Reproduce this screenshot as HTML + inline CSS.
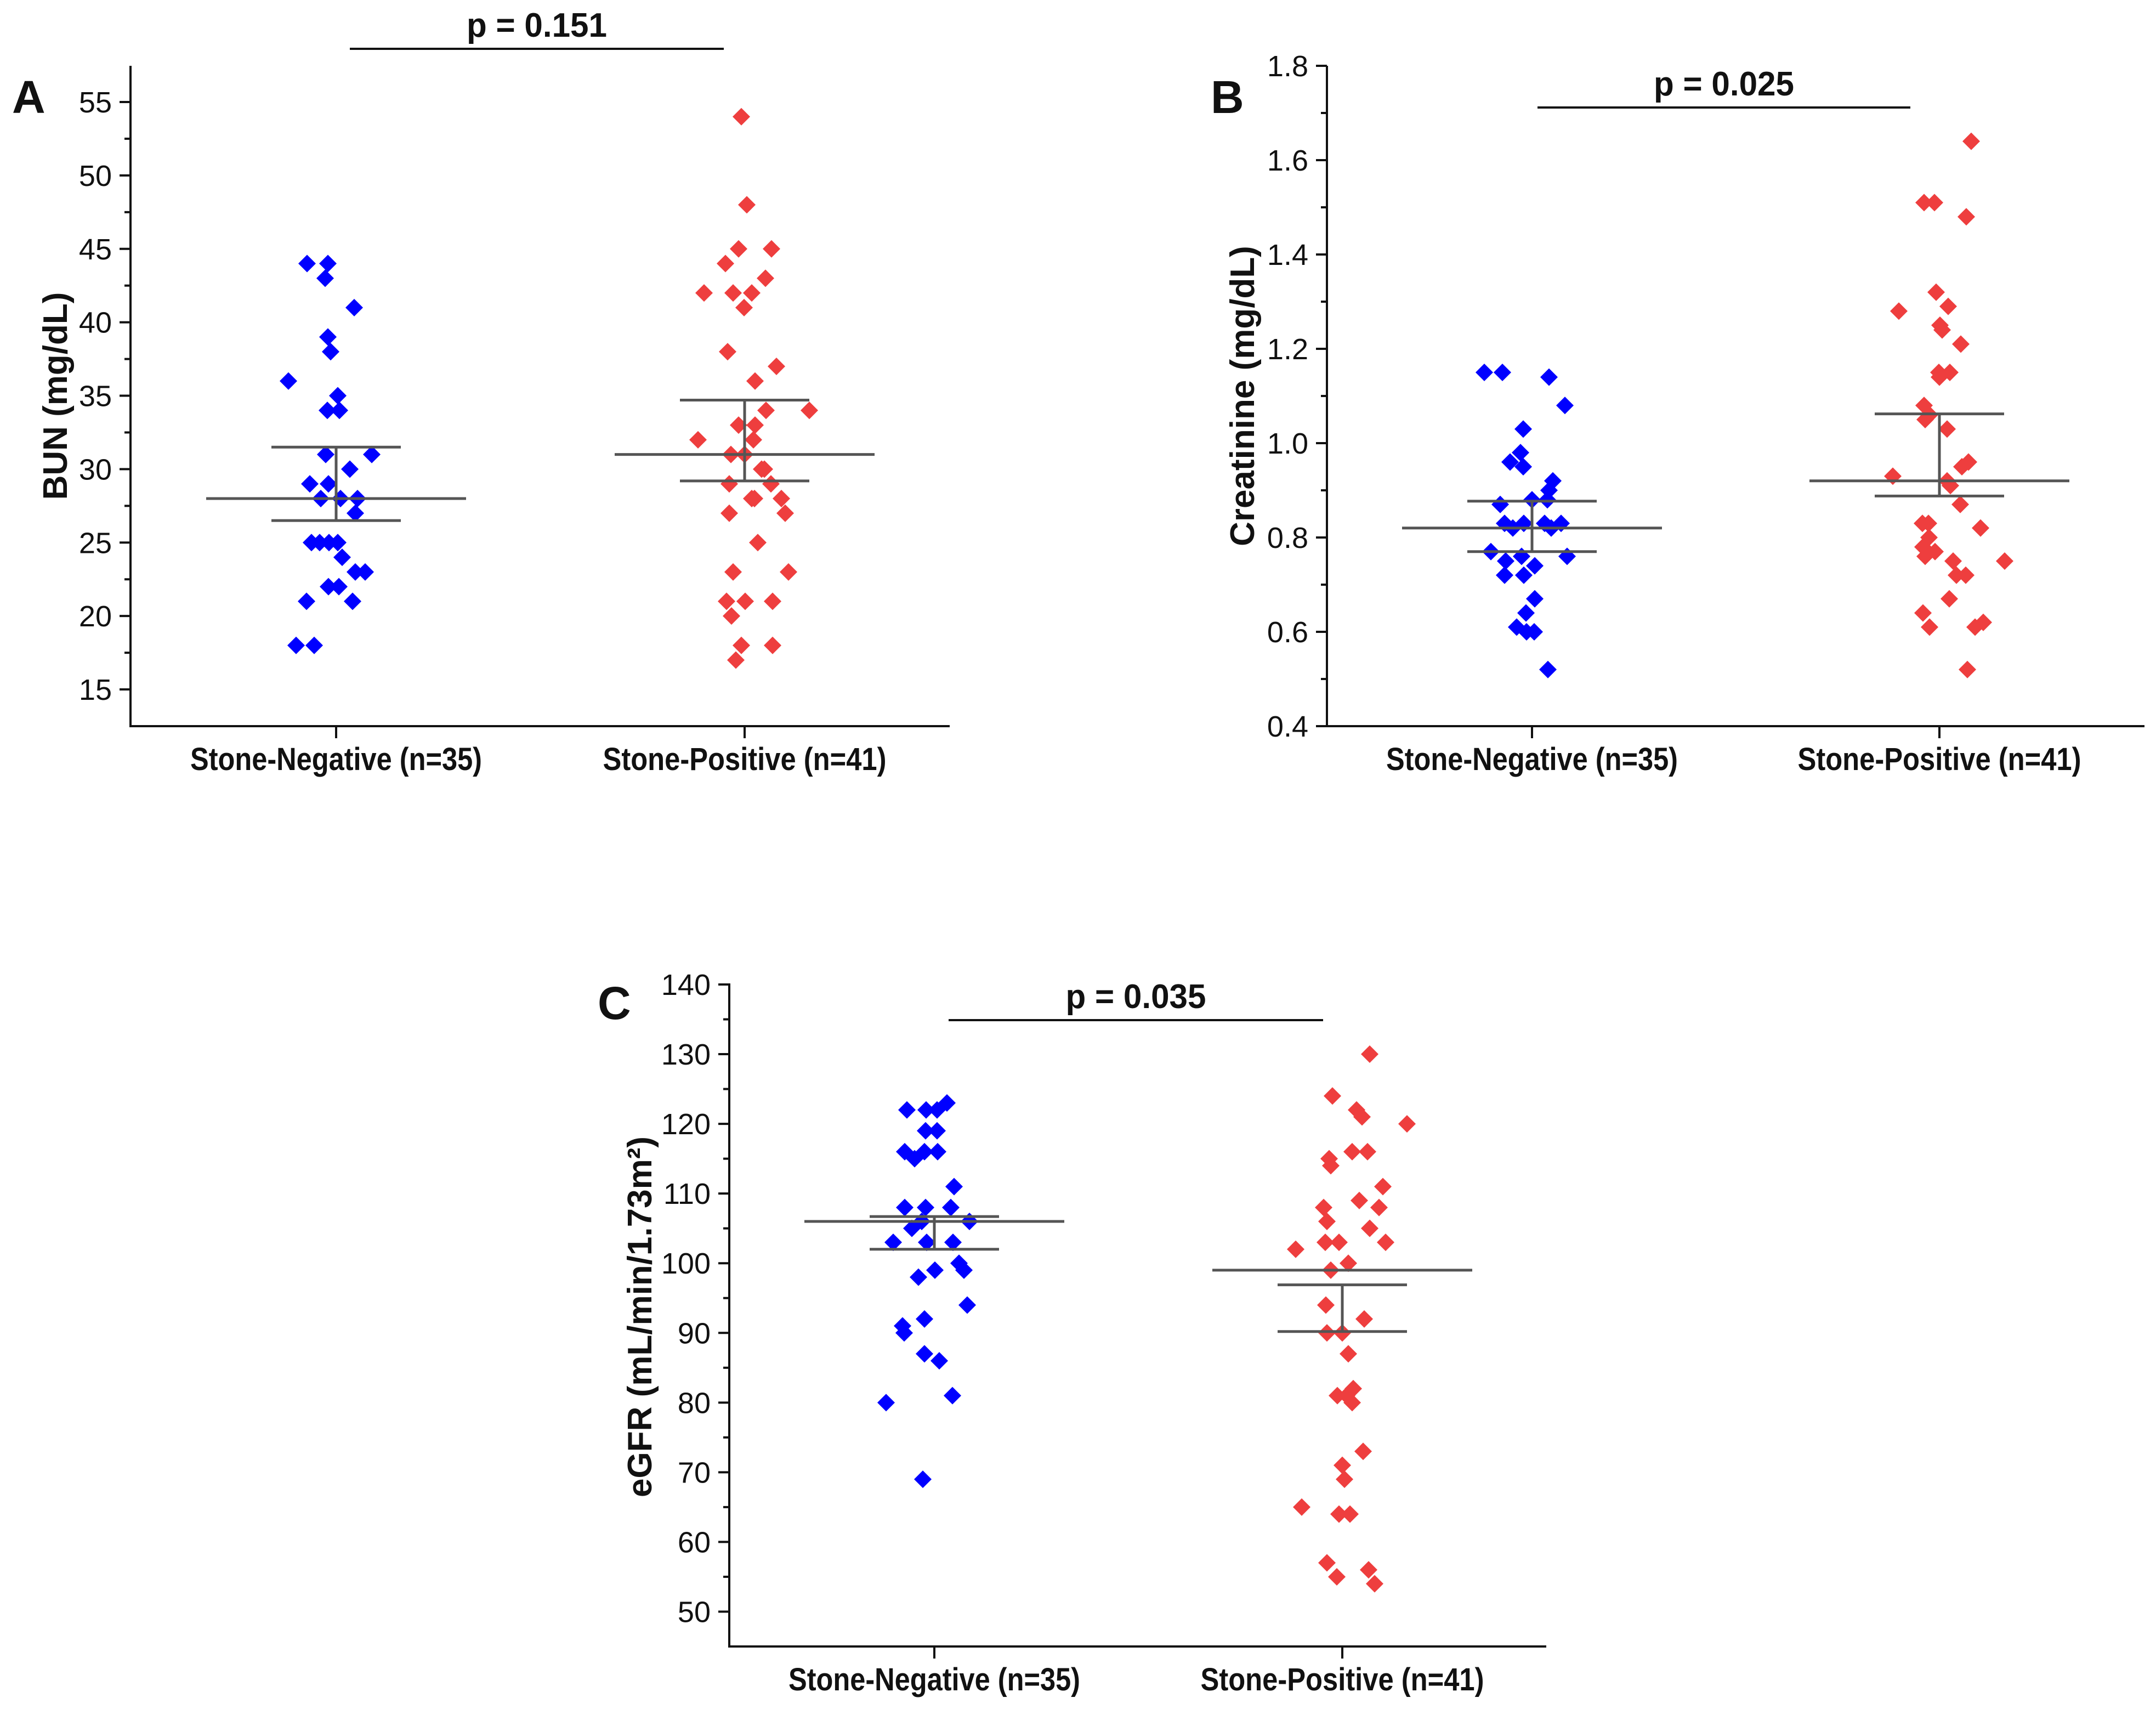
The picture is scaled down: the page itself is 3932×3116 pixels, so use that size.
<!DOCTYPE html>
<html><head><meta charset="utf-8">
<style>
html,body{margin:0;padding:0;background:#fff;}
svg{display:block;}
.tick{font-family:"Liberation Sans Narrow","Liberation Sans",sans-serif;font-size:54px;fill:#111;}
.cat{font-family:"Liberation Sans Narrow","Liberation Sans",sans-serif;font-size:58px;font-weight:bold;fill:#111;}
.pval{font-family:"Liberation Sans Narrow","Liberation Sans",sans-serif;font-size:62px;font-weight:bold;fill:#111;}
.ytitle{font-family:"Liberation Sans",sans-serif;font-size:62px;font-weight:bold;fill:#111;}
.letter{font-family:"Liberation Sans",sans-serif;font-size:84px;font-weight:bold;fill:#111;}
</style></head>
<body>
<svg id="fig" width="3932" height="3116" viewBox="0 0 3932 3116" xmlns="http://www.w3.org/2000/svg"></svg>
<script>
// ---------- data ----------
const categories = ["Stone-Negative (n=35)", "Stone-Positive (n=41)"];
const bunNeg = [44,44,43,41,39,38,36,35,34,34,31,31,30,29,29,28,28,28,27,25,25,25,25,24,23,23,22,22,21,21,18,18];
const bunNegJit = [-53,-15,-20,33,-15,-10,-87,3,-16,6,-19,65,25,-48,-14,-28,8,39,35,-45,-30,-13,3,11,35,53,-14,5,30,-54,-73,-40];
const bunPos = [54,48,45,45,44,43,42,42,42,41,38,37,36,34,34,33,33,32,32,31,31,30,30,29,29,28,28,28,27,27,25,23,23,21,21,21,20,18,18,17];
const bunPosJit = [-6,4,-11,49,-35,38,-74,-21,13,-1,-31,58,19,39,118,-11,19,-85,16,-25,0,31,36,-28,48,13,18,67,-28,74,24,-21,80,-33,1,51,-24,-6,51,-16];
const bunMean = [28, 31];
const bunSemLo = [26.5, 29.2];
const bunSemHi = [31.5, 34.7];
const bunTicks = [15,20,25,30,35,40,45,50,55];

const crNeg = [1.15,1.15,1.14,1.08,1.03,0.98,0.96,0.95,0.92,0.90,0.88,0.88,0.87,0.83,0.83,0.83,0.83,0.82,0.82,0.77,0.75,0.76,0.74,0.76,0.72,0.72,0.67,0.64,0.61,0.60,0.60,0.52];
const crNegJit = [-87,-54,31,60,-16,-21,-40,-16,38,31,28,0,-58,-50,-15,23,53,-35,35,-75,-48,-19,5,64,-50,-15,5,-11,-28,-10,4,29];
const crPos = [1.64,1.51,1.51,1.48,1.32,1.28,1.29,1.25,1.24,1.21,1.15,1.15,1.14,1.08,1.06,1.05,1.03,0.96,0.95,0.93,0.92,0.91,0.87,0.83,0.83,0.82,0.80,0.78,0.77,0.76,0.75,0.75,0.72,0.72,0.67,0.64,0.61,0.61,0.62,0.52];
const crPosJit = [58,-28,-9,49,-6,-74,16,1,5,39,-1,19,0,-28,-18,-26,14,53,41,-85,14,20,38,-31,-20,75,-19,-30,-8,-26,25,119,31,48,18,-30,-18,65,80,51];
const crMean = [0.82, 0.92];
const crSemLo = [0.77, 0.888];
const crSemHi = [0.877, 1.062];
const crTicks = [0.4,0.6,0.8,1.0,1.2,1.4,1.6,1.8];

const egNeg = [122,122,122,123,119,119,116,116,116,115,111,108,108,108,106,106,105,103,103,103,100,99,99,98,94,91,92,90,87,86,81,80,69];
const egNegJit = [-50,-15,5,23,-16,5,-54,-18,6,-36,36,-54,-16,30,-23,64,-41,-75,-14,34,45,54,1,-29,60,-58,-18,-55,-18,9,33,-88,-21];
const egPos = [130,124,122,121,120,116,116,115,114,111,109,108,108,106,105,103,103,103,102,100,99,94,92,90,90,87,82,81,81,80,73,71,69,65,64,64,57,56,55,54];
const egPosJit = [50,-18,26,36,118,18,46,-24,-21,74,31,-34,67,-28,50,-31,-6,79,-85,11,-21,-30,40,-28,0,11,20,-9,8,18,38,0,4,-74,-6,14,-28,48,-10,59];
const egMean = [106, 99];
const egSemLo = [102, 90.2];
const egSemHi = [106.7, 96.9];
const egTicks = [50,60,70,80,90,100,110,120,130,140];

// ---------- drawing ----------
const NS = "http://www.w3.org/2000/svg";
const svg = document.getElementById("fig");
const catWidths = [532, 517];
function mk(tag, attrs, parent){
  const e = document.createElementNS(NS, tag);
  for (const k in attrs) e.setAttribute(k, attrs[k]);
  (parent||svg).appendChild(e);
  return e;
}
function panel(cfg){
  const g = mk("g", {});
  
  
  const y = v => cfg.y0 + (v - cfg.vmin) * (cfg.y1 - cfg.y0) / (cfg.vmax - cfg.vmin);
  const x = i => cfg.cx[i];
  const ya = mk("line", {x1:cfg.ax, y1:cfg.top, x2:cfg.ax, y2:cfg.y0+1, stroke:"#111","stroke-width":4}, g);
  
  
  const xa = mk("line", {x1:cfg.ax-2, y1:cfg.y0, x2:cfg.right, y2:cfg.y0, stroke:"#111","stroke-width":4}, g);
  
  
  cfg.ticks.forEach((t, i) => {
    const ty = y(t);
    mk("line", {x1:cfg.ax-20, y1:ty, x2:cfg.ax, y2:ty, stroke:"#111","stroke-width":4}, g);
    const lab = mk("text", {x:cfg.ax-34, y:ty+19, "text-anchor":"end", class:"tick"}, g);
    lab.textContent = cfg.fmt(t);
    
    
    if (i < cfg.ticks.length - 1) {
      const my = y((t + cfg.ticks[i+1]) / 2);
      mk("line", {x1:cfg.ax-11, y1:my, x2:cfg.ax, y2:my, stroke:"#111","stroke-width":4}, g);
    }
  });
  categories.forEach((c, i) => {
    mk("line", {x1:x(i), y1:cfg.y0, x2:x(i), y2:cfg.y0+22, stroke:"#111","stroke-width":4}, g);
    const t = mk("text", {x:x(i), y:cfg.y0+80, "text-anchor":"middle", class:"cat",
      textLength:catWidths[i], lengthAdjust:"spacingAndGlyphs"}, g);
    t.textContent = c;
    
    
  });
  const yt = mk("text", {x:cfg.titleX, y:cfg.titleY, "text-anchor":"middle", class:"ytitle",
    transform:"rotate(-90 "+cfg.titleX+" "+cfg.titleY+")"}, g);
  yt.textContent = cfg.title;
  
  
  const L = mk("text", {x:cfg.letterX, y:cfg.letterY, class:"letter"}, g);
  L.textContent = cfg.letter;
  
  
  const pl = mk("line", {x1:cfg.pX1, y1:cfg.pY, x2:cfg.pX2, y2:cfg.pY, stroke:"#111","stroke-width":4}, g);
  
  
  const pt = mk("text", {x:(cfg.pX1+cfg.pX2)/2, y:cfg.pY-22, "text-anchor":"middle", class:"pval",
    textLength:256, lengthAdjust:"spacingAndGlyphs"}, g);
  pt.textContent = cfg.ptext;
  
  
  const sets = [[cfg.neg, cfg.negJit, "#0000ff"], [cfg.pos, cfg.posJit, "#ee3e3e"]];
  sets.forEach((s, i) => {
    s[0].forEach((v, k) => {
      const px = x(i) + (s[1][k] || 0), py = y(v), r = 16;
      const d = mk("path", {d:"M"+px+" "+(py-r)+"L"+(px+r)+" "+py+"L"+px+" "+(py+r)+"L"+(px-r)+" "+py+"Z", fill:s[2]}, g);
      
      
    });
  });
  [0,1].forEach(i => {
    const col = "#555", sw = 5;
    const m = mk("line", {x1:x(i)-cfg.meanHalf, y1:y(cfg.mean[i]), x2:x(i)+cfg.meanHalf, y2:y(cfg.mean[i]), stroke:col,"stroke-width":sw}, g);
    
    
    const v = mk("line", {x1:x(i), y1:y(cfg.semLo[i]), x2:x(i), y2:y(cfg.semHi[i]), stroke:col,"stroke-width":sw}, g);
    
    
    [cfg.semLo[i], cfg.semHi[i]].forEach(e => {
      const c = mk("line", {x1:x(i)-cfg.capHalf, y1:y(e), x2:x(i)+cfg.capHalf, y2:y(e), stroke:col,"stroke-width":sw}, g);
      
      
    });
  });
}

panel({name:"panel-a-bun", ax:238, top:120, y0:1324, right:1732, vmin:12.5, vmax:55,
  y1:186, fmt:v=>String(v), ticks:bunTicks, cx:[613,1358],
  title:"BUN (mg/dL)", titleX:122, titleY:722, letter:"A", letterX:22, letterY:206,
  pX1:638, pX2:1320, pY:89, ptext:"p = 0.151",
  neg:bunNeg, negJit:bunNegJit, pos:bunPos, posJit:bunPosJit,
  mean:bunMean, semLo:bunSemLo, semHi:bunSemHi, meanHalf:237, capHalf:118});

panel({name:"panel-b-creatinine", ax:2420, top:120, y0:1324, right:3911, vmin:0.4, vmax:1.8,
  y1:120, fmt:v=>v.toFixed(1), ticks:crTicks, cx:[2794,3537],
  title:"Creatinine (mg/dL)", titleX:2287, titleY:722, letter:"B", letterX:2208, letterY:206,
  pX1:2804, pX2:3484, pY:196, ptext:"p = 0.025",
  neg:crNeg, negJit:crNegJit, pos:crPos, posJit:crPosJit,
  mean:crMean, semLo:crSemLo, semHi:crSemHi, meanHalf:237, capHalf:118});

panel({name:"panel-c-egfr", ax:1330, top:1793, y0:3002, right:2820, vmin:45, vmax:140,
  y1:1795, fmt:v=>String(v), ticks:egTicks, cx:[1704,2448],
  title:"eGFR (mL/min/1.73m²)", titleX:1188, titleY:2401, letter:"C", letterX:1090, letterY:1858,
  pX1:1730, pX2:2413, pY:1860, ptext:"p = 0.035",
  neg:egNeg, negJit:egNegJit, pos:egPos, posJit:egPosJit,
  mean:egMean, semLo:egSemLo, semHi:egSemHi, meanHalf:237, capHalf:118});
</script>
</body></html>
